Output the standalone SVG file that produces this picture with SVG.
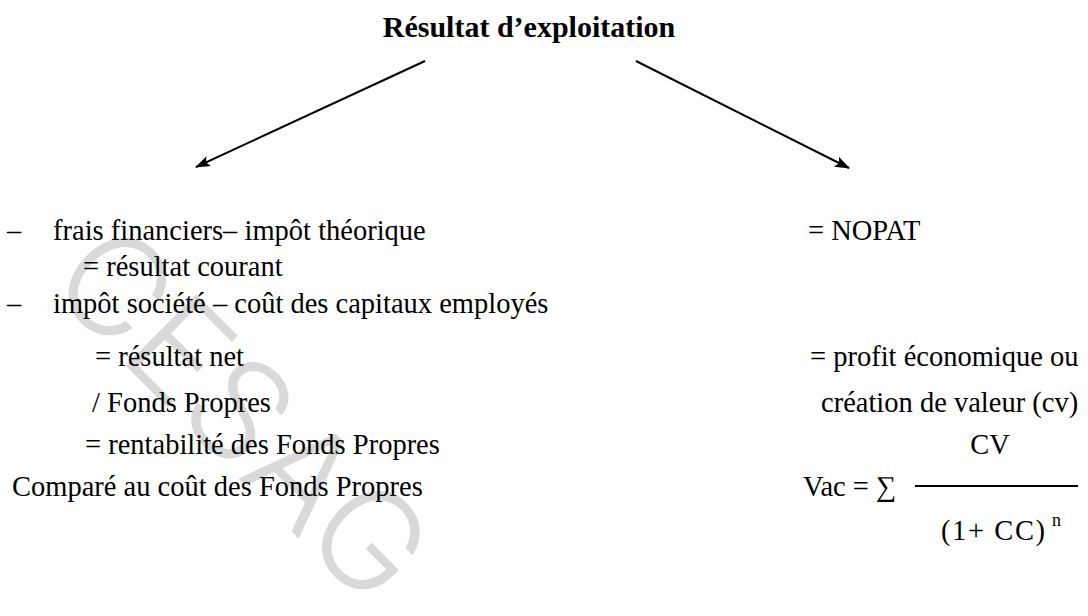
<svg xmlns="http://www.w3.org/2000/svg" width="1088" height="616" viewBox="0 0 1088 616">
<style>
text{font-family:"Liberation Serif","Times New Roman",serif;fill:#000;}
.t{font-size:28.5px;}
.title{font-size:30px;font-weight:bold;}
.wm{font-family:"Inter","Roboto","DejaVu Sans",sans-serif;font-weight:300;font-size:138px;fill:#d9d9d9;}
.conn{stroke:#000;stroke-width:2;fill:none;}
</style>
<defs>
<marker id="ah" markerWidth="15" markerHeight="11" refX="14" refY="5.5" orient="auto" markerUnits="userSpaceOnUse">
<path d="M0,0 L15,5.5 L0,11 L3,5.5 Z" fill="#000"/>
</marker>
</defs>
<rect width="1088" height="616" fill="#fff"/>
<g id="watermark">
<text class="wm" x="0" y="0" text-anchor="middle" transform="translate(208,448) rotate(45)">CESAG</text>
</g>
<g id="title">
<text class="title" x="529" y="37" text-anchor="middle">Résultat d’exploitation</text>
</g>
<g id="connectors">
<line class="conn" x1="425" y1="61" x2="196" y2="167" marker-end="url(#ah)"/>
<line class="conn" x1="636" y1="61" x2="849" y2="168" marker-end="url(#ah)"/>
</g>
<g id="left">
<text class="t" x="7" y="240">–</text>
<text class="t" x="53" y="240">frais financiers– impôt théorique</text>
<text class="t" x="83" y="276">= résultat courant</text>
<text class="t" x="7" y="313">–</text>
<text class="t" x="53" y="313">impôt société – coût des capitaux employés</text>
<text class="t" x="95" y="366">= résultat net</text>
<text class="t" x="92" y="412">/ Fonds Propres</text>
<text class="t" x="85" y="454">= rentabilité des Fonds Propres</text>
<text class="t" x="12" y="496">Comparé au coût des Fonds Propres</text>
</g>
<g id="right">
<text class="t" x="808" y="240">= NOPAT</text>
<text class="t" x="810" y="366">= profit économique ou</text>
<text class="t" x="821" y="412">création de valeur (cv)</text>
<text class="t" x="990" y="454" text-anchor="middle">CV</text>
<text class="t" x="803" y="496">Vac = ∑</text>
<line x1="915" y1="486" x2="1078" y2="486" stroke="#000" stroke-width="2"/>
<text class="t" x="993" y="540" text-anchor="middle" textLength="104" lengthAdjust="spacing">(1+ CC)</text>
<text x="1052" y="526" style="font-size:18px">n</text>
</g>
</svg>
